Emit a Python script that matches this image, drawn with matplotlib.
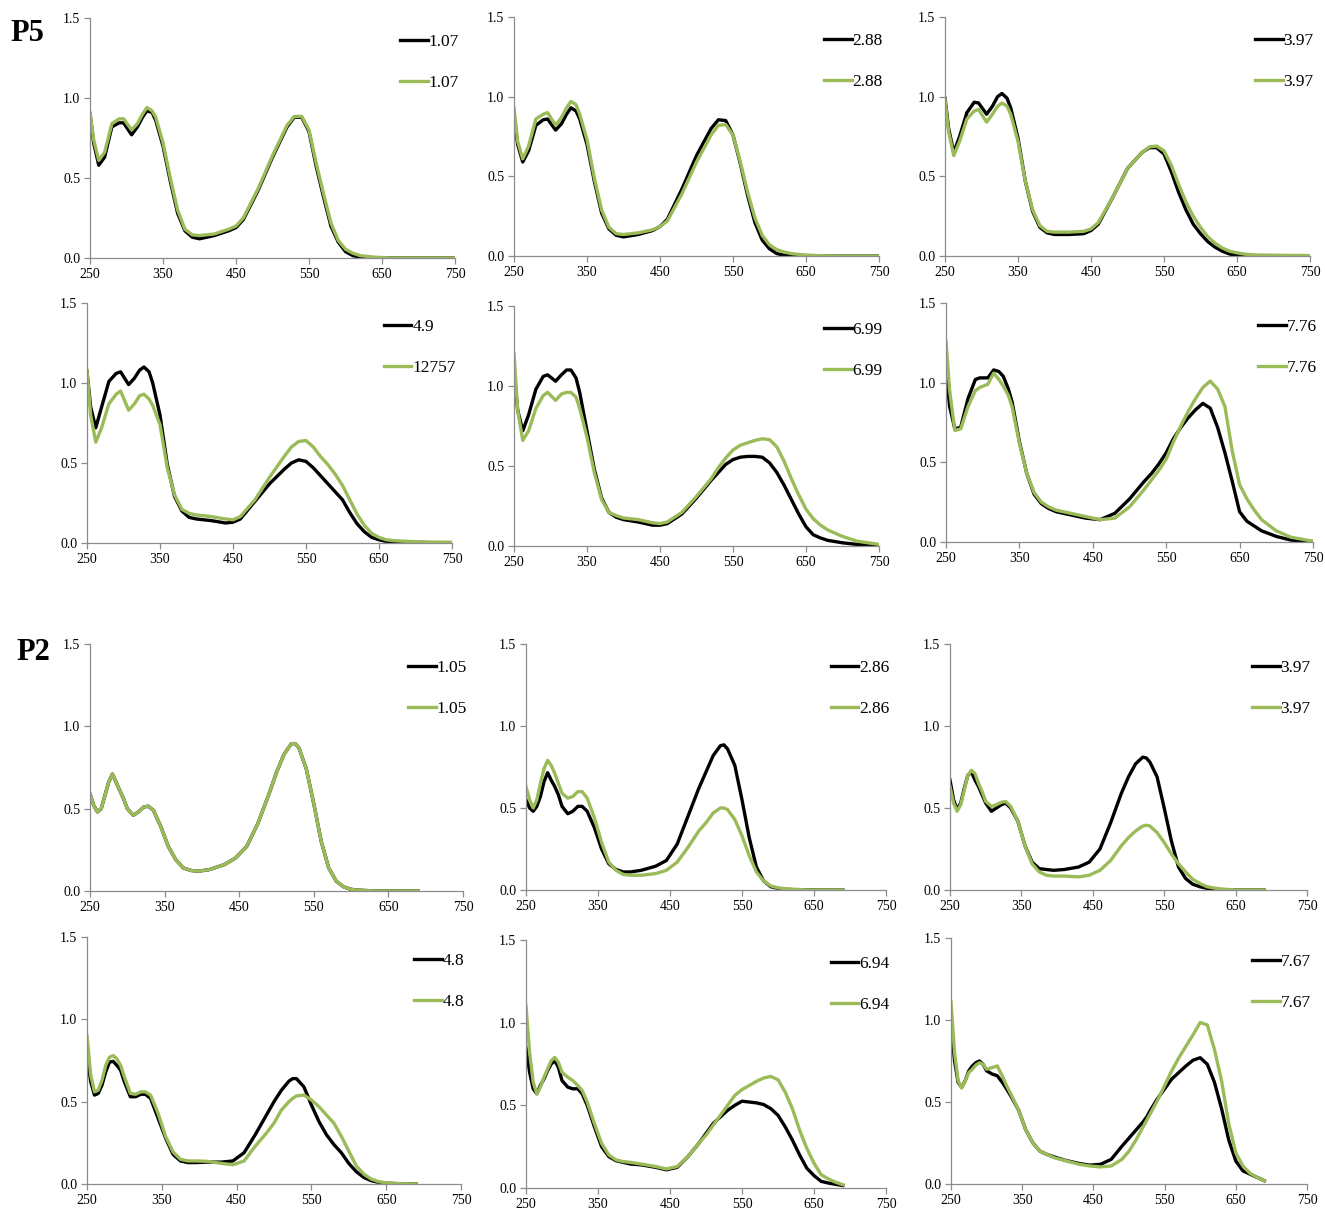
import matplotlib

matplotlib.use("Agg")
import matplotlib.pyplot as plt
from matplotlib.ticker import FormatStrFormatter

plt.rcParams["font.family"] = ["Liberation Serif", "DejaVu Serif"]

BLACK = "#000000"
GREEN = "#9bbb59"
AXIS_GREY = "#8c8c8c"

# wavelength grids (nm)
WL_P5 = [250, 255, 262, 270, 280, 290, 296, 307, 315, 322, 328, 335, 340, 350, 360,
         370, 380, 390, 400, 420, 440, 450, 460, 480, 500, 520, 530, 540, 550, 560,
         570, 580, 590, 600, 610, 620, 630, 640, 650, 660, 670, 680, 700, 720, 750]
WL_P2 = [250, 255, 260, 265, 270, 275, 280, 285, 290, 295, 300, 308, 315, 322, 328,
         335, 345, 355, 365, 375, 385, 395, 410, 430, 445, 460, 475, 490, 500, 510,
         520, 525, 530, 540, 550, 560, 570, 580, 590, 600, 610, 620, 630, 640, 650,
         660, 670, 680, 690]

# ---- P5 absorbance ----
P5_107_K = [0.90, 0.72, 0.58, 0.63, 0.82, 0.845, 0.845, 0.77, 0.82, 0.88, 0.92, 0.91, 0.86, 0.70, 0.48,
            0.28, 0.17, 0.13, 0.12, 0.14, 0.17, 0.19, 0.24, 0.42, 0.63, 0.82, 0.88, 0.88, 0.79, 0.57,
            0.38, 0.20, 0.10, 0.04, 0.015, 0.005, 0, 0, 0, 0, 0, 0, 0, 0, 0]
P5_107_G = [0.91, 0.74, 0.61, 0.66, 0.84, 0.87, 0.87, 0.80, 0.84, 0.90, 0.94, 0.92, 0.88, 0.72, 0.50,
            0.30, 0.18, 0.145, 0.14, 0.15, 0.18, 0.20, 0.25, 0.43, 0.64, 0.83, 0.885, 0.885, 0.80, 0.59,
            0.40, 0.22, 0.11, 0.055, 0.03, 0.015, 0.01, 0.005, 0.003, 0, 0, 0, 0, 0, 0]
P5_288_K = [0.88, 0.70, 0.59, 0.66, 0.82, 0.855, 0.86, 0.79, 0.83, 0.89, 0.93, 0.91, 0.86, 0.70, 0.47,
            0.27, 0.17, 0.13, 0.12, 0.135, 0.16, 0.185, 0.23, 0.42, 0.63, 0.80, 0.855, 0.85, 0.76, 0.58,
            0.38, 0.21, 0.10, 0.045, 0.015, 0.005, 0, 0, 0, 0, 0, 0, 0, 0, 0]
P5_288_G = [0.93, 0.72, 0.61, 0.69, 0.86, 0.89, 0.90, 0.82, 0.87, 0.93, 0.97, 0.95, 0.89, 0.73, 0.49,
            0.29, 0.18, 0.14, 0.135, 0.145, 0.165, 0.185, 0.22, 0.39, 0.59, 0.76, 0.82, 0.825, 0.76, 0.59,
            0.40, 0.24, 0.13, 0.07, 0.04, 0.025, 0.015, 0.01, 0.006, 0.004, 0.002, 0.001, 0, 0, 0]
P5_397_K = [0.99, 0.80, 0.65, 0.75, 0.90, 0.965, 0.96, 0.89, 0.94, 1.00, 1.02, 0.99, 0.93, 0.74, 0.47,
            0.28, 0.18, 0.145, 0.135, 0.135, 0.14, 0.16, 0.20, 0.37, 0.55, 0.65, 0.68, 0.68, 0.64, 0.53,
            0.40, 0.29, 0.20, 0.14, 0.09, 0.055, 0.03, 0.012, 0.004, 0.002, 0, 0, 0, 0, 0]
P5_397_G = [0.98, 0.78, 0.63, 0.72, 0.86, 0.91, 0.92, 0.84, 0.89, 0.94, 0.96, 0.94, 0.89, 0.72, 0.47,
            0.29, 0.19, 0.155, 0.15, 0.15, 0.155, 0.17, 0.21, 0.37, 0.55, 0.65, 0.685, 0.69, 0.66, 0.57,
            0.45, 0.34, 0.25, 0.18, 0.12, 0.08, 0.05, 0.03, 0.02, 0.012, 0.008, 0.006, 0.005, 0.004, 0.003]
P5_49_K = [1.07, 0.85, 0.72, 0.85, 1.01, 1.06, 1.07, 0.99, 1.03, 1.08, 1.10, 1.07, 1.00, 0.80, 0.49,
           0.29, 0.20, 0.16, 0.15, 0.14, 0.125, 0.13, 0.15, 0.26, 0.37, 0.46, 0.50, 0.52, 0.51, 0.47,
           0.42, 0.37, 0.32, 0.27, 0.19, 0.12, 0.07, 0.035, 0.02, 0.01, 0.007, 0.005, 0.004, 0.002, 0]
P5_49_G = [1.08, 0.80, 0.63, 0.72, 0.87, 0.93, 0.95, 0.83, 0.87, 0.92, 0.93, 0.90, 0.86, 0.74, 0.47,
           0.30, 0.21, 0.185, 0.175, 0.165, 0.15, 0.145, 0.165, 0.27, 0.41, 0.54, 0.60, 0.635, 0.64, 0.60,
           0.54, 0.49, 0.43, 0.36, 0.27, 0.18, 0.11, 0.06, 0.035, 0.02, 0.015, 0.012, 0.008, 0.006, 0.005]
P5_699_K = [1.10, 0.85, 0.72, 0.82, 0.98, 1.06, 1.07, 1.03, 1.07, 1.10, 1.10, 1.05, 0.96, 0.72, 0.48,
            0.30, 0.21, 0.18, 0.165, 0.15, 0.13, 0.13, 0.14, 0.20, 0.30, 0.41, 0.46, 0.51, 0.54, 0.555,
            0.56, 0.56, 0.555, 0.52, 0.46, 0.38, 0.29, 0.20, 0.12, 0.07, 0.05, 0.035, 0.02, 0.01, 0.0]
P5_699_G = [1.20, 0.85, 0.66, 0.72, 0.86, 0.94, 0.96, 0.91, 0.95, 0.96, 0.96, 0.93, 0.86, 0.68, 0.46,
            0.29, 0.21, 0.19, 0.175, 0.165, 0.145, 0.14, 0.15, 0.21, 0.31, 0.42, 0.49, 0.55, 0.60, 0.63,
            0.645, 0.66, 0.67, 0.665, 0.62, 0.53, 0.42, 0.32, 0.23, 0.17, 0.13, 0.10, 0.06, 0.03, 0.01]
P5_776_K = [1.07, 0.85, 0.71, 0.72, 0.90, 1.02, 1.03, 1.03, 1.08, 1.07, 1.04, 0.96, 0.88, 0.63, 0.43,
            0.30, 0.24, 0.21, 0.19, 0.17, 0.15, 0.145, 0.14, 0.18, 0.27, 0.38, 0.43, 0.49, 0.56, 0.65,
            0.72, 0.78, 0.83, 0.87, 0.84, 0.72, 0.56, 0.38, 0.19, 0.13, 0.10, 0.07, 0.035, 0.012, 0.003]
P5_776_G = [1.26, 0.95, 0.70, 0.71, 0.85, 0.95, 0.97, 0.99, 1.06, 1.02, 0.98, 0.92, 0.85, 0.62, 0.43,
            0.31, 0.25, 0.22, 0.20, 0.18, 0.16, 0.15, 0.14, 0.15, 0.22, 0.33, 0.39, 0.45, 0.52, 0.63,
            0.73, 0.82, 0.90, 0.97, 1.01, 0.96, 0.85, 0.57, 0.36, 0.27, 0.20, 0.14, 0.07, 0.03, 0.005]

# ---- P2 absorbance ----
P2_105_K = [0.59, 0.52, 0.48, 0.50, 0.58, 0.66, 0.71, 0.66, 0.61, 0.56, 0.50, 0.46, 0.48, 0.51, 0.515,
            0.49, 0.39, 0.27, 0.19, 0.14, 0.125, 0.12, 0.13, 0.16, 0.20, 0.27, 0.41, 0.59, 0.72, 0.83,
            0.895, 0.895, 0.87, 0.74, 0.53, 0.30, 0.14, 0.06, 0.025, 0.01, 0.005, 0.003, 0, 0, 0,
            0, 0, 0, 0]
P2_105_G = list(P2_105_K)
P2_286_K = [0.55, 0.50, 0.48, 0.51, 0.57, 0.66, 0.715, 0.67, 0.63, 0.58, 0.51, 0.465, 0.48, 0.51, 0.51,
            0.48, 0.38, 0.25, 0.16, 0.125, 0.11, 0.11, 0.12, 0.145, 0.18, 0.28, 0.45, 0.62, 0.72, 0.82,
            0.88, 0.885, 0.86, 0.76, 0.55, 0.32, 0.14, 0.055, 0.02, 0.01, 0.005, 0.002, 0, 0, 0,
            0, 0, 0, 0]
P2_286_G = [0.63, 0.55, 0.50, 0.55, 0.65, 0.74, 0.79, 0.76, 0.71, 0.65, 0.59, 0.56, 0.57, 0.60, 0.60,
            0.56, 0.44, 0.29, 0.17, 0.12, 0.095, 0.09, 0.09, 0.10, 0.12, 0.17, 0.26, 0.36, 0.41, 0.47,
            0.50, 0.50, 0.49, 0.43, 0.33, 0.21, 0.11, 0.055, 0.025, 0.013, 0.008, 0.005, 0.003, 0, 0,
            0, 0, 0, 0]
P2_397_K = [0.67, 0.55, 0.49, 0.53, 0.62, 0.70, 0.72, 0.67, 0.63, 0.58, 0.53, 0.48, 0.50, 0.52, 0.53,
            0.50, 0.42, 0.27, 0.17, 0.13, 0.125, 0.12, 0.125, 0.14, 0.17, 0.25, 0.41, 0.59, 0.69, 0.77,
            0.81, 0.805, 0.78, 0.69, 0.50, 0.30, 0.14, 0.07, 0.035, 0.02, 0.01, 0.005, 0.002, 0, 0,
            0, 0, 0, 0]
P2_397_G = [0.63, 0.53, 0.48, 0.52, 0.61, 0.70, 0.73, 0.71, 0.65, 0.60, 0.54, 0.51, 0.52, 0.535, 0.54,
            0.51, 0.42, 0.27, 0.16, 0.11, 0.09, 0.085, 0.085, 0.08, 0.09, 0.12, 0.18, 0.27, 0.32, 0.36,
            0.39, 0.395, 0.39, 0.35, 0.29, 0.22, 0.16, 0.11, 0.065, 0.04, 0.02, 0.012, 0.006, 0.003, 0,
            0, 0, 0, 0]
P2_48_K = [0.78, 0.62, 0.54, 0.55, 0.60, 0.68, 0.74, 0.745, 0.72, 0.69, 0.62, 0.53, 0.53, 0.545, 0.545,
           0.52, 0.40, 0.28, 0.18, 0.14, 0.13, 0.13, 0.133, 0.133, 0.14, 0.19, 0.30, 0.42, 0.50, 0.57,
           0.625, 0.64, 0.64, 0.59, 0.48, 0.38, 0.30, 0.24, 0.19, 0.125, 0.075, 0.04, 0.02, 0.01, 0.005,
           0.003, 0.001, 0, 0]
P2_48_G = [0.90, 0.66, 0.56, 0.57, 0.63, 0.72, 0.77, 0.78, 0.76, 0.72, 0.65, 0.55, 0.545, 0.56, 0.56,
           0.54, 0.43, 0.29, 0.195, 0.15, 0.14, 0.14, 0.138, 0.125, 0.117, 0.14, 0.23, 0.31, 0.37, 0.45,
           0.50, 0.52, 0.535, 0.54, 0.51, 0.47, 0.42, 0.37, 0.29, 0.20, 0.11, 0.06, 0.03, 0.014, 0.007,
           0.004, 0.002, 0.001, 0]
P2_694_K = [0.85, 0.70, 0.60, 0.57, 0.62, 0.66, 0.71, 0.75, 0.77, 0.73, 0.65, 0.61, 0.60, 0.60, 0.57,
            0.50, 0.37, 0.25, 0.19, 0.165, 0.155, 0.145, 0.14, 0.125, 0.11, 0.125, 0.19, 0.27, 0.33, 0.39,
            0.43, 0.45, 0.47, 0.50, 0.525, 0.52, 0.515, 0.505, 0.48, 0.44, 0.37, 0.29, 0.20, 0.12, 0.075,
            0.04, 0.03, 0.022, 0.015]
P2_694_G = [1.10, 0.82, 0.64, 0.57, 0.61, 0.67, 0.72, 0.77, 0.79, 0.76, 0.70, 0.67, 0.65, 0.62, 0.59,
            0.52, 0.39, 0.27, 0.20, 0.17, 0.16, 0.155, 0.145, 0.13, 0.115, 0.13, 0.19, 0.27, 0.32, 0.38,
            0.44, 0.47, 0.50, 0.56, 0.595, 0.62, 0.645, 0.665, 0.675, 0.655, 0.58, 0.48, 0.35, 0.24, 0.15,
            0.08, 0.055, 0.035, 0.02]
P2_767_K = [0.97, 0.75, 0.62, 0.59, 0.63, 0.69, 0.72, 0.74, 0.75, 0.73, 0.69, 0.67, 0.66, 0.62, 0.58,
            0.53, 0.45, 0.33, 0.25, 0.20, 0.18, 0.165, 0.145, 0.125, 0.115, 0.12, 0.15, 0.23, 0.28, 0.33,
            0.38, 0.41, 0.45, 0.52, 0.58, 0.64, 0.68, 0.72, 0.755, 0.77, 0.73, 0.62, 0.46, 0.27, 0.14,
            0.08, 0.06, 0.04, 0.02]
P2_767_G = [1.11, 0.80, 0.63, 0.585, 0.63, 0.68, 0.70, 0.725, 0.74, 0.73, 0.70, 0.71, 0.72, 0.66, 0.60,
            0.54, 0.45, 0.33, 0.25, 0.20, 0.18, 0.16, 0.143, 0.12, 0.11, 0.104, 0.11, 0.15, 0.20, 0.27,
            0.35, 0.39, 0.43, 0.51, 0.60, 0.69, 0.77, 0.84, 0.91, 0.985, 0.97, 0.82, 0.63, 0.37, 0.19,
            0.11, 0.065, 0.04, 0.02]

SERIES = [
    (WL_P5, P5_107_K, P5_107_G, "1.07", "1.07"),
    (WL_P5, P5_288_K, P5_288_G, "2.88", "2.88"),
    (WL_P5, P5_397_K, P5_397_G, "3.97", "3.97"),
    (WL_P5, P5_49_K, P5_49_G, "4.9", "12757"),
    (WL_P5, P5_699_K, P5_699_G, "6.99", "6.99"),
    (WL_P5, P5_776_K, P5_776_G, "7.76", "7.76"),
    (WL_P2, P2_105_K, P2_105_G, "1.05", "1.05"),
    (WL_P2, P2_286_K, P2_286_G, "2.86", "2.86"),
    (WL_P2, P2_397_K, P2_397_G, "3.97", "3.97"),
    (WL_P2, P2_48_K, P2_48_G, "4.8", "4.8"),
    (WL_P2, P2_694_K, P2_694_G, "6.94", "6.94"),
    (WL_P2, P2_767_K, P2_767_G, "7.67", "7.67"),
]

# axes boxes in pixels: left, top, right, bottom
BOXES = [
    (90, 18, 455, 258), (514, 17, 879, 256), (945, 17, 1310, 256),
    (87, 303, 452, 543), (514, 306, 879, 546), (946, 303, 1313, 542),
    (90, 644, 463, 891), (526, 644, 886, 890), (950, 644, 1307, 890),
    (87, 937, 461, 1184), (526, 940, 886, 1188), (951, 938, 1307, 1184),
]

W, H = 1325, 1211
fig = plt.figure(figsize=(W / 100, H / 100), dpi=100)

for (wl, black, green, lab_k, lab_g), (l, t, r, b) in zip(SERIES, BOXES):
    ax = fig.add_axes([l / W, 1 - b / H, (r - l) / W, (b - t) / H])
    ax.plot(wl, black, color=BLACK, lw=2.4, label=lab_k, solid_joinstyle="round")
    ax.plot(wl, green, color=GREEN, lw=2.4, label=lab_g, solid_joinstyle="round")
    ax.set_xlim(250, 750)
    ax.set_ylim(0, 1.5)
    ax.set_xticks([250, 350, 450, 550, 650, 750])
    ax.set_yticks([0, 0.5, 1.0, 1.5])
    ax.yaxis.set_major_formatter(FormatStrFormatter("%.1f"))
    for side in ("top", "right"):
        ax.spines[side].set_visible(False)
    for side in ("left", "bottom"):
        ax.spines[side].set_color(AXIS_GREY)
        ax.spines[side].set_linewidth(0.9)
    ax.tick_params(axis="both", direction="out", length=4, width=0.9, color=AXIS_GREY,
                   labelsize=10, pad=3)
    ax.patch.set_alpha(0)
    ax.legend(loc="upper right", bbox_to_anchor=(1.01, 0.935), frameon=False,
              fontsize=12.5, handlelength=1.6, handletextpad=0.05, labelspacing=1.43,
              borderpad=0, borderaxespad=0)

fig.text(10 / W, 1 - 41 / H, "P5", fontsize=22, fontweight="bold", ha="left", va="baseline")
fig.text(16 / W, 1 - 660 / H, "P2", fontsize=22, fontweight="bold", ha="left", va="baseline")

fig.savefig("out.png", dpi=100)
